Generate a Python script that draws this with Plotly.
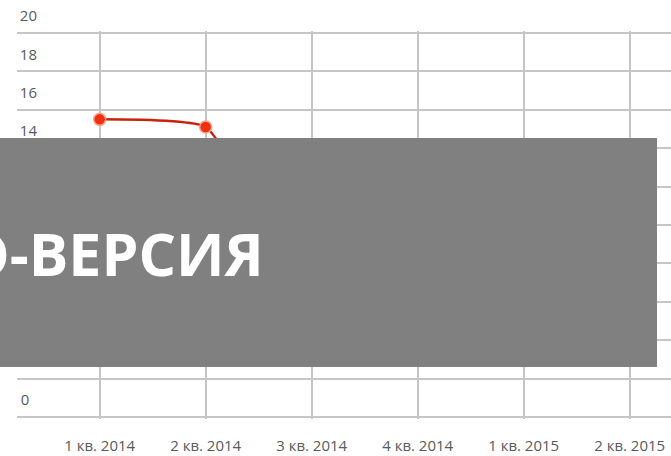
import plotly.graph_objects as go

quarters = ["1 кв. 2014", "2 кв. 2014", "3 кв. 2014", "4 кв. 2014", "1 кв. 2015", "2 кв. 2015"]
values = [15.5, 15.1, 6.5, 5.2, 7.0, 8.5]
y_ticks = [0, 2, 4, 6, 8, 10, 12, 14, 16, 18, 20]

grid = "#c6c6c6"
tick_font = {"family": "Open Sans", "size": 15, "color": "#5a5a5a"}

# labels are left-aligned in the original, pad single digits
y_text = [str(v) if v >= 10 else str(v) + "\u00a0\u00a0" for v in y_ticks]

fig = go.Figure()
fig.add_trace(
    go.Scatter(
        x=quarters,
        y=values,
        mode="lines+markers",
        line={"color": "#c9230c", "width": 2.5, "shape": "spline", "smoothing": 0.4},
        marker={"size": 12, "color": "#f2300f", "line": {"color": "#f7a58f", "width": 1.5}},
        showlegend=False,
    )
)

# plot area: x 17..671, y 31..419 (0 at 417, 20 at 33)
fig.update_layout(
    width=671,
    height=456,
    margin={"l": 17, "r": 0, "t": 31, "b": 37, "autoexpand": False},
    paper_bgcolor="white",
    plot_bgcolor="white",
    xaxis={
        "type": "category",
        "range": [-0.78, 5.39],
        "showgrid": True,
        "gridcolor": grid,
        "gridwidth": 1.5,
        "showline": False,
        "zeroline": False,
        "ticks": "outside",
        "ticklen": 13,
        "tickcolor": "rgba(0,0,0,0)",
        "tickfont": tick_font,
        "automargin": False,
    },
    yaxis={
        "range": [-0.1, 20.1],
        "tickvals": y_ticks,
        "ticktext": y_text,
        "showgrid": True,
        "gridcolor": grid,
        "gridwidth": 1.5,
        "zeroline": False,
        "showline": False,
        "anchor": "free",
        "position": 20 / 654,
        "ticklabelshift": -17,
        "tickfont": tick_font,
        "automargin": False,
    },
    shapes=[
        {
            "type": "rect",
            "xref": "paper",
            "yref": "paper",
            "x0": -0.1,
            "x1": (657 - 17) / 654,
            "y0": (419 - 367) / 388,
            "y1": (419 - 138) / 388,
            "fillcolor": "#808080",
            "line": {"width": 0},
            "layer": "above",
        }
    ],
    annotations=[
        {
            "text": "<b>ДЕМО-ВЕРСИЯ</b>",
            "xref": "paper",
            "yref": "paper",
            "x": (266 - 17) / 654,
            "y": (419 - 253) / 388,
            "xanchor": "right",
            "yanchor": "middle",
            "showarrow": False,
            "font": {"family": "Open Sans", "size": 59, "color": "white"},
        }
    ],
)

fig.write_html(
    "out.html",
    config={"displayModeBar": False},
    post_script="document.body.style.margin = '0';",
)
